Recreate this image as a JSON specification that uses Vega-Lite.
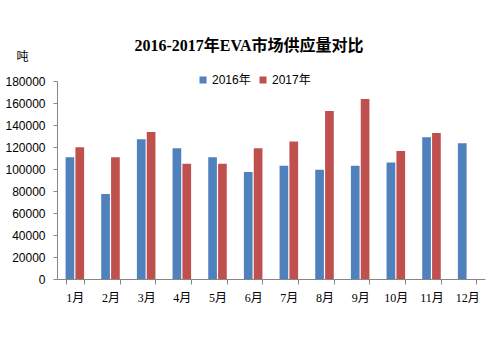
{
  "$schema": "https://vega.github.io/schema/vega-lite/v6.json",
  "autosize": "none",
  "width": 428,
  "height": 198,
  "padding": {"left": 57, "top": 81, "right": 15, "bottom": 83},
  "background": "white",
  "title": {
    "text": "2016-2017年EVA市场供应量对比",
    "font": "Liberation Serif, Noto Sans CJK SC",
    "fontSize": 16,
    "fontWeight": "bold",
    "color": "#000000",
    "anchor": "middle",
    "dx": -22,
    "dy": 24,
    "offset": 20
  },
  "data": {
    "values": [
      {"month": "1月", "year": "2016年", "value": 110600},
      {"month": "1月", "year": "2017年", "value": 119700},
      {"month": "2月", "year": "2016年", "value": 77300},
      {"month": "2月", "year": "2017年", "value": 110600},
      {"month": "3月", "year": "2016年", "value": 127000},
      {"month": "3月", "year": "2017年", "value": 133600},
      {"month": "4月", "year": "2016年", "value": 118800},
      {"month": "4月", "year": "2017年", "value": 104800},
      {"month": "5月", "year": "2016年", "value": 110600},
      {"month": "5月", "year": "2017年", "value": 104800},
      {"month": "6月", "year": "2016年", "value": 97300},
      {"month": "6月", "year": "2017年", "value": 118800},
      {"month": "7月", "year": "2016年", "value": 103000},
      {"month": "7月", "year": "2017年", "value": 125100},
      {"month": "8月", "year": "2016年", "value": 99400},
      {"month": "8月", "year": "2017年", "value": 152700},
      {"month": "9月", "year": "2016年", "value": 103000},
      {"month": "9月", "year": "2017年", "value": 163600},
      {"month": "10月", "year": "2016年", "value": 106000},
      {"month": "10月", "year": "2017年", "value": 116400},
      {"month": "11月", "year": "2016年", "value": 128800},
      {"month": "11月", "year": "2017年", "value": 132700},
      {"month": "12月", "year": "2016年", "value": 123300}
    ]
  },
  "mark": {"type": "bar"},
  "encoding": {
    "x": {
      "field": "month",
      "type": "nominal",
      "sort": ["1月","2月","3月","4月","5月","6月","7月","8月","9月","10月","11月","12月"],
      "scale": {"paddingInner": 0.48, "paddingOuter": 0.24},
      "axis": {
        "title": null,
        "labelAngle": 0,
        "labelFont": "Liberation Serif, Noto Sans CJK SC",
        "labelFontSize": 12,
        "labelColor": "#000000",
        "labelPadding": 8,
        "tickBand": "extent",
        "tickSize": 5,
        "tickColor": "#868686",
        "domainColor": "#868686",
        "grid": false
      }
    },
    "xOffset": {
      "field": "year",
      "type": "nominal",
      "scale": {"paddingInner": 0.12}
    },
    "y": {
      "field": "value",
      "type": "quantitative",
      "scale": {"domain": [0, 180000], "nice": false},
      "axis": {
        "title": "吨",
        "titleAngle": 0,
        "titleFont": "Noto Sans CJK SC",
        "titleFontSize": 12,
        "titleFontWeight": "normal",
        "titleColor": "#000000",
        "titleX": -35,
        "titleY": -25,
        "titleAlign": "center",
        "titleBaseline": "middle",
        "values": [0,20000,40000,60000,80000,100000,120000,140000,160000,180000],
        "format": "d",
        "labelFont": "Liberation Sans",
        "labelFontSize": 12,
        "labelColor": "#000000",
        "labelPadding": 8,
        "tickSize": 4,
        "tickColor": "#868686",
        "domainColor": "#868686",
        "grid": false
      }
    },
    "color": {
      "field": "year",
      "type": "nominal",
      "scale": {"domain": ["2016年", "2017年"], "range": ["#4F81BD", "#C0504D"]},
      "legend": {
        "title": null,
        "orient": "none",
        "direction": "horizontal",
        "legendX": 140,
        "legendY": -7,
        "symbolType": "square",
        "symbolSize": 49,
        "symbolStrokeWidth": 0,
        "labelFont": "Liberation Sans, Noto Sans CJK SC",
        "labelFontSize": 12,
        "labelColor": "#000000",
        "labelOffset": 3,
        "columnPadding": 6
      }
    }
  },
  "config": {
    "view": {"stroke": null}
  }
}
